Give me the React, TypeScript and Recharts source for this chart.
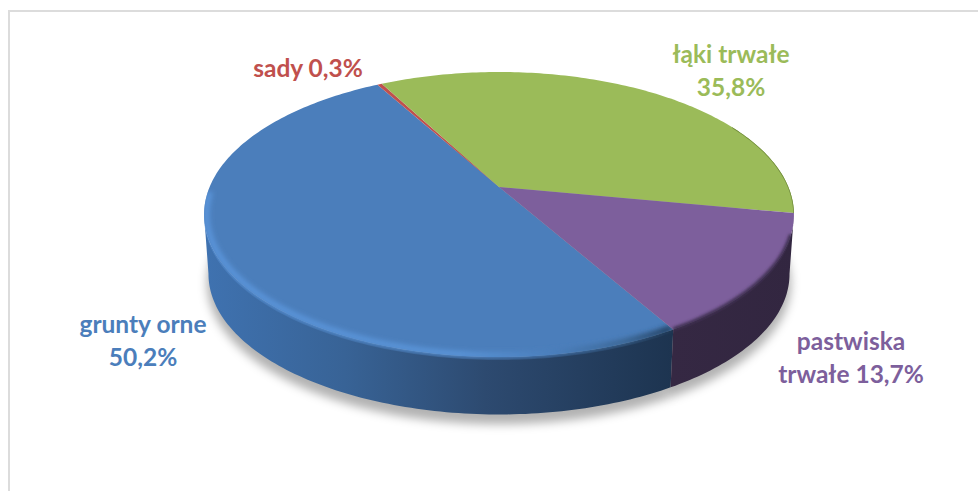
import React from "react";
import { PieChart, Pie, Cell } from "recharts";

const categories = ["grunty orne", "sady", "łąki trwałe", "pastwiska trwałe"];
const shares = [50.2, 0.3, 35.8, 13.7];
const labelLines = [["grunty orne", "50,2%"], ["sady 0,3%"], ["łąki trwałe", "35,8%"], ["pastwiska", "trwałe 13,7%"]];
const colors = ["#4b7ebb", "#c0504d", "#9bbb59", "#7d5f9c"];
const rows = categories.map((name, i) => ({ name, value: shares[i] }));

const labelAnchors = [
  { x: 143, y: 323 },
  { x: 308, y: 67 },
  { x: 731, y: 53 },
  { x: 851, y: 340 },
];
const LINE_STEP = 33;
const CX = 499;
const CY = 187;
const R = 289.4;
const Y_RATIO = 137.2 / 289.4;
const TILT = 0.193;
const DEPTH = 60;
const BOTTOM_SCALE = 0.985;
const SIL_FROM = 11;
const SIL_TO = 169;
const START = -59.9;

type Pt = [number, number];
function project(deg: number, cx: number, cy: number, r: number, radial = 1, drop = 0, scale = 1): Pt {
  const a = (deg * Math.PI) / 180;
  const u = Math.cos(a) * radial;
  const v = Math.sin(a) * radial;
  const w = 1 - TILT * v;
  return [cx + (r * scale * u) / w, cy + drop + (r * scale * Y_RATIO * v) / w];
}
function arc(from: number, to: number, fn: (d: number) => Pt): Pt[] {
  const n = Math.max(2, Math.ceil(Math.abs(to - from)));
  const out: Pt[] = [];
  for (let i = 0; i <= n; i++) out.push(fn(from + ((to - from) * i) / n));
  return out;
}
const toPath = (pts: Pt[], close = true) =>
  "M" + pts.map((p) => `${p[0].toFixed(2)},${p[1].toFixed(2)}`).join("L") + (close ? "Z" : "");

// recharts angles are counter-clockwise; the projection runs clockwise on screen
const range = (p: any): [number, number] => [-p.startAngle, -p.endAngle];

function ShadowShape(p: any) {
  const [a, b] = range(p);
  const pts = arc(a, b, (d) => project(d, p.cx, p.cy, p.outerRadius, 1, DEPTH + 9, BOTTOM_SCALE * 1.005));
  return <path d={toPath([[p.cx, p.cy + DEPTH + 9], ...pts])} fill="#000" fillOpacity={0.3} stroke="none" filter="url(#softShadow)" />;
}

function norm(d: number) {
  let x = d;
  while (x < 0) x += 360;
  while (x >= 360) x -= 360;
  return x;
}

function WallShape(p: any) {
  const [a0, b0] = range(p);
  const a = norm(a0);
  const b = a + (b0 - a0);
  const candidates = [0, 360].map((k) => [Math.max(a, SIL_FROM + k), Math.min(b, SIL_TO + k)]);
  const parts = candidates.filter(([f, t]) => t > f);
  return (
    <g>
      {parts.map(([f, t], i) => {
        const top = arc(f, t, (d) => project(d, p.cx, p.cy, p.outerRadius));
        const bottom = arc(t, f, (d) => project(d, p.cx, p.cy, p.outerRadius, 1, DEPTH, BOTTOM_SCALE));
        return <path key={i} d={toPath([...top, ...bottom])} fill={`url(#wall${p.index})`} stroke="none" />;
      })}
    </g>
  );
}

function TopShape(p: any) {
  const [a0, b0] = range(p);
  const rim = arc(a0, b0, (d) => project(d, p.cx, p.cy, p.outerRadius));
  const dropped = arc(a0, b0, (d) => project(d, p.cx, p.cy, p.outerRadius, 1, 3));
  const d = toPath([[p.cx, p.cy], ...rim]);
  const clipD = toPath([[p.cx, p.cy + 3], ...dropped]);
  const clip = `topClip${p.index}`;
  const a = norm(a0);
  const b = a + (b0 - a0);
  let bevel: React.ReactNode = null;
  if (p.index === 0) {
    const pts = arc(a, Math.min(b, 178), (x) => project(x, p.cx, p.cy, p.outerRadius, 0.992));
    bevel = <path d={toPath(pts, false)} fill="none" stroke="url(#bevelBlue)" strokeWidth={6} filter="url(#softEdgeWide)" />;
  } else if (p.index === 3) {
    const pts = arc(Math.max(a, SIL_FROM + 8), b, (x) => project(x, p.cx, p.cy, p.outerRadius, 1));
    bevel = <path d={toPath(pts, false)} fill="none" stroke="#3d2e50" strokeWidth={4} filter="url(#softEdge)" />;
  } else if (p.index === 2) {
    const pts = arc(a, b, (x) => project(x, p.cx, p.cy, p.outerRadius, 1));
    bevel = <path d={toPath(pts.slice(-40), false)} fill="none" stroke="#6f8a3c" strokeWidth={1.4} filter="url(#softThin)" />;
  }
  return (
    <g>
      <clipPath id={clip}>
        <path d={d} />
        <path d={clipD} />
      </clipPath>
      <path d={d} fill={p.fill} stroke="none" />
      <g clipPath={`url(#${clip})`}>{bevel}</g>
    </g>
  );
}

function SliceLabel(p: any) {
  const at = labelAnchors[p.index];
  return (
    <text textAnchor="middle" fontFamily="Lato, sans-serif" fontWeight={700} fontSize={24.5} fill={colors[p.index]}>
      {labelLines[p.index].map((line, i) => (
        <tspan key={i} x={at.x} y={at.y + i * LINE_STEP} dominantBaseline="central">
          {line}
        </tspan>
      ))}
    </text>
  );
}

export default function App() {
  const pieProps = {
    data: rows,
    dataKey: "value",
    nameKey: "name",
    cx: CX,
    cy: CY,
    innerRadius: 0,
    outerRadius: R,
    startAngle: START,
    endAngle: START - 360,
    paddingAngle: 0,
    stroke: "none",
    isAnimationActive: false,
  };
  return (
    <div style={{ position: "absolute", left: 0, top: 0, width: 978, height: 491, background: "#fff", overflow: "hidden" }}>
      <div
        style={{
          position: "absolute",
          left: 8,
          top: 10,
          width: 978,
          height: 491,
          borderLeft: "2px solid #dcdcdc",
          borderTop: "2px solid #dcdcdc",
        }}
      />
      <div style={{ position: "absolute", left: 0, top: 0 }}>
        <PieChart width={978} height={491} margin={{ top: 0, right: 0, bottom: 0, left: 0 }}>
          <defs>
            <filter id="softShadow" x="-10%" y="-10%" width="120%" height="120%">
              <feGaussianBlur stdDeviation="5" />
            </filter>
            <filter id="softEdge" x="-10%" y="-10%" width="120%" height="120%">
              <feGaussianBlur stdDeviation="1.6" />
            </filter>
            <filter id="softEdgeWide" x="-10%" y="-10%" width="120%" height="120%">
              <feGaussianBlur stdDeviation="2.4" />
            </filter>
            <filter id="softThin" x="-10%" y="-10%" width="120%" height="120%">
              <feGaussianBlur stdDeviation="0.6" />
            </filter>
            <linearGradient id="wall0" gradientUnits="userSpaceOnUse" x1="205" y1="0" x2="672" y2="0">
              <stop offset="0" stopColor="#3f72b0" />
              <stop offset="0.3" stopColor="#386396" />
              <stop offset="0.6" stopColor="#2d4a70" />
              <stop offset="1" stopColor="#1d3450" />
            </linearGradient>
            <linearGradient id="wall1" gradientUnits="userSpaceOnUse" x1="205" y1="0" x2="672" y2="0">
              <stop offset="0" stopColor="#7a3331" />
            </linearGradient>
            <linearGradient id="wall2" gradientUnits="userSpaceOnUse" x1="672" y1="0" x2="795" y2="0">
              <stop offset="0" stopColor="#5f7434" />
            </linearGradient>
            <linearGradient id="wall3" gradientUnits="userSpaceOnUse" x1="672" y1="0" x2="795" y2="0">
              <stop offset="0" stopColor="#352843" />
              <stop offset="1" stopColor="#322640" />
            </linearGradient>
            <linearGradient id="bevelBlue" gradientUnits="userSpaceOnUse" x1="205" y1="0" x2="672" y2="0">
              <stop offset="0" stopColor="#5a94da" />
              <stop offset="0.55" stopColor="#5a94d8" />
              <stop offset="0.75" stopColor="#4a7ebb" />
              <stop offset="0.9" stopColor="#3a6592" />
              <stop offset="1" stopColor="#1f3a58" />
            </linearGradient>
          </defs>
          <Pie {...pieProps} shape={ShadowShape} label={false} />
          <Pie {...pieProps} shape={WallShape} label={false} />
          <Pie {...pieProps} shape={TopShape} label={SliceLabel} labelLine={false}>
            {rows.map((r, i) => (
              <Cell key={r.name} fill={colors[i]} />
            ))}
          </Pie>
        </PieChart>
      </div>
    </div>
  );
}
